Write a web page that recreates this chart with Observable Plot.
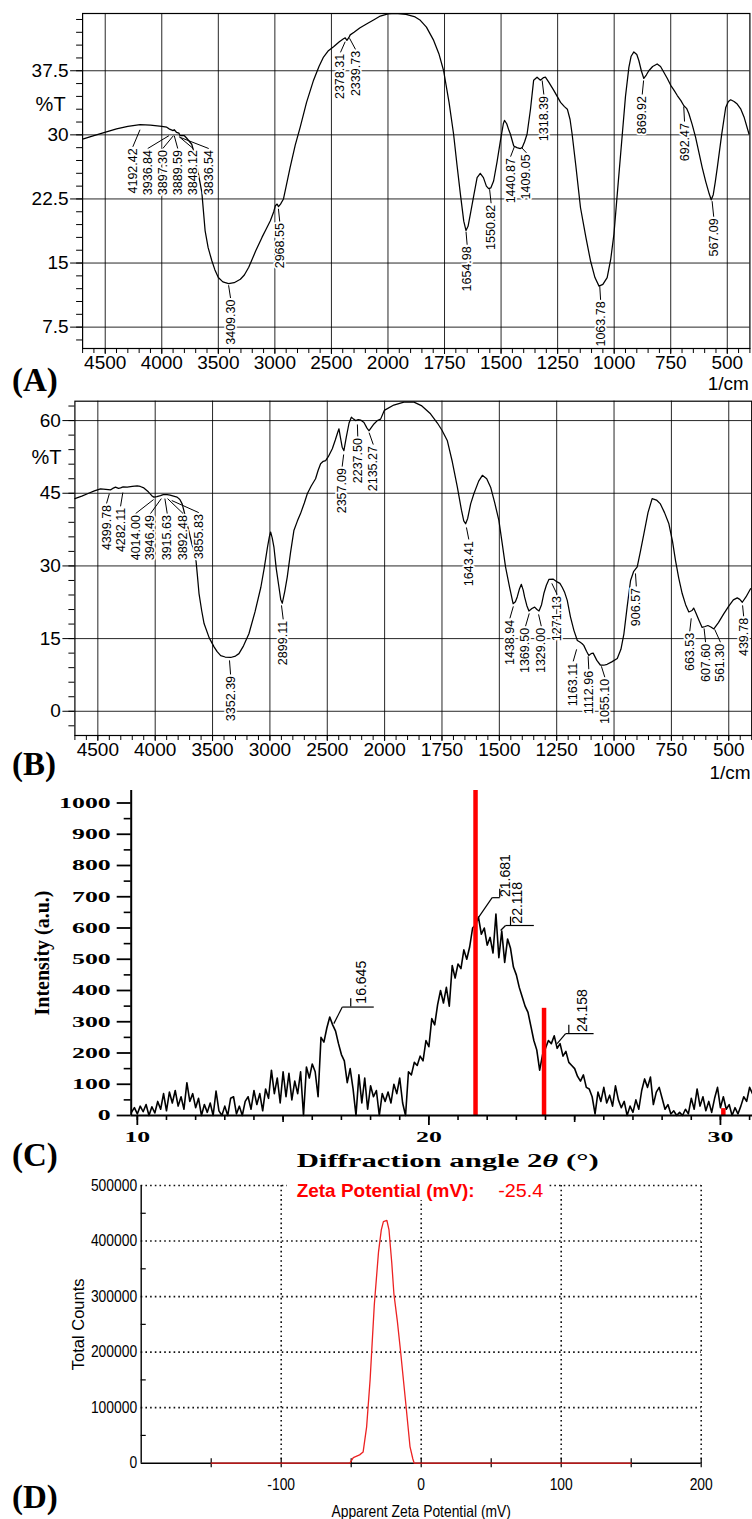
<!DOCTYPE html>
<html><head><meta charset="utf-8">
<script src="https://cdn.jsdelivr.net/npm/d3@7"></script>
<script src="https://cdn.jsdelivr.net/npm/@observablehq/plot@0.6"></script>
<style>
html,body{margin:0;padding:0;background:#fff;}
#root{position:relative;width:752px;height:1519px;overflow:hidden;background:#fff;}
#root svg{position:absolute;left:0;}
</style></head>
<body><div id="root"></div>
<script>
// ================= DATA =================
// (A) FTIR spectrum: wavenumber (1/cm) and transmittance (%T)
const irA_wavenumber = [4700,4600,4504,4400,4300,4192,4100,4000,3956,3936,3900,3890,3870,3848,3838,3800,3779,3735,3700,3670,3646,3617,3590,3558,3530,3500,3460,3409,3360,3305,3270,3231,3170,3114,3080,3040,3010,2996,2980,2968,2950,2924,2900,2865,2820,2776,2720,2658,2610,2570,2530,2481,2430,2393,2378,2363,2345,2334,2300,2250,2186,2120,2068,2000,1968,1920,1880,1857,1830,1798,1775,1754,1730,1710,1695,1680,1665,1655,1646,1636,1620,1606,1592,1578,1565,1555,1545,1533,1518,1503,1490,1485,1475,1465,1459,1444,1430,1415,1407,1396,1385,1370,1356,1341,1326,1312,1304,1290,1267,1237,1220,1207,1195,1186,1170,1149,1125,1105,1085,1067,1050,1031,1015,1001,985,964,950,935,925,913,900,891,880,869,858,847,830,810,795,780,765,750,735,721,705,692,680,670,655,640,625,611,595,580,571,562,553,544,525,507,495,485,470,456,440,426,404];
const irA_transmittance = [29.5,29.9,30.3,30.7,31.0,31.2,31.15,31.0,30.9,30.7,30.5,30.6,30.3,30.2,29.9,29.9,29.6,28.9,27.2,25.0,23.3,18.8,16.8,15.3,14.2,13.3,12.8,12.6,12.7,13.1,13.6,14.5,16.4,18.0,18.9,19.95,21.0,21.7,21.9,21.6,21.9,22.5,24.0,26.2,28.8,30.9,33.8,36.4,38.0,39.1,39.8,40.3,40.9,41.25,41.35,41.05,41.4,41.7,42.0,42.5,43.0,43.5,43.9,44.15,44.2,44.1,43.8,43.4,42.6,41.05,39.5,37.5,33.8,30.1,26.5,23.1,19.9,18.8,19.3,20.7,23.0,25.0,25.5,25.0,24.0,23.7,23.8,24.6,26.8,29.3,31.3,31.7,31.3,30.5,30.1,28.7,28.5,28.4,28.5,29.2,30.1,33.0,36.4,36.75,36.4,36.7,36.75,36.2,35.2,33.8,33.3,33.0,31.8,30.1,26.5,21.5,18.0,15.3,13.3,12.3,12.5,13.3,15.5,18.4,23.5,30.1,34.5,37.9,39.2,39.7,39.4,38.7,37.5,36.6,37.0,37.5,38.0,38.3,38.0,37.3,36.6,35.8,35.2,34.6,34.0,33.4,33.1,32.5,31.2,29.7,27.9,26.2,24.5,23.1,22.4,23.0,24.5,26.2,30.0,33.2,33.9,34.1,33.9,33.6,33.0,32.1,30.1];
// peak labels: [text, peak wavenumber, %T where leader starts, label wavenumber, %T at label top]
const irA_peakLabels = [
  ["4192.42",4192.42,30.6,4256,28.6],["3936.84",3936.84,29.9,4124,28.4],["3897.30",3897.30,29.9,3991,28.4],
  ["3889.59",3889.59,29.9,3859,28.4],["3848.12",3848.12,29.8,3722,28.4],["3836.54",3836.54,29.7,3585,28.4],
  ["3409.30",3409.30,12.4,3392,10.9],["2968.55",2968.55,21.35,2957,19.85],["2378.31",2378.31,40.9,2420,39.65],
  ["2339.73",2339.73,41.3,2287,40.0],["1654.98",1654.98,18.66,1650,17.14],["1550.82",1550.82,23.64,1544,22.0],
  ["1440.87",1440.87,28.63,1458,27.45],["1409.05",1409.05,28.5,1388,27.9],["1318.39",1318.39,36.36,1311,34.72],
  ["1063.78",1063.78,12.27,1060,10.69],["869.92",869.92,36.36,876,34.72],["692.47",692.47,33.31,689,31.56],
  ["567.09",567.09,22.24,560,20.42]
];

// (B) FTIR spectrum
const irB_wavenumber = [4700,4640,4590,4530,4477,4430,4390,4370,4346,4320,4302,4280,4244,4200,4157,4130,4099,4060,4030,4012,3985,3954,3930,3896,3870,3840,3809,3785,3765,3740,3710,3680,3647,3632,3618,3595,3574,3530,3487,3460,3429,3390,3342,3300,3270,3230,3183,3130,3079,3050,3021,3005,2994,2980,2965,2945,2921,2905,2892,2870,2849,2820,2791,2760,2733,2700,2674,2640,2602,2580,2558,2535,2514,2490,2456,2430,2410,2398,2385,2370,2355,2335,2310,2290,2270,2253,2230,2209,2180,2155,2137,2115,2093,2064,2035,2003,1960,1916,1872,1840,1800,1770,1750,1727,1705,1683,1665,1655,1647,1638,1625,1611,1590,1574,1555,1538,1520,1502,1488,1473,1455,1440,1430,1422,1412,1404,1396,1390,1380,1371,1358,1346,1336,1327,1316,1306,1295,1284,1266,1248,1236,1226,1215,1204,1190,1175,1160,1149,1140,1132,1120,1110,1100,1091,1075,1059,1045,1030,1010,986,970,957,943,928,915,899,885,870,852,834,815,798,780,761,745,732,718,703,688,674,660,653,645,630,616,603,591,578,565,545,522,500,480,463,452,441,425,405];
const irB_transmittance = [43.9,44.4,44.9,45.5,45.9,45.8,45.7,46.0,46.25,46.0,46.1,46.3,46.25,46.4,46.5,46.4,46.1,45.3,44.5,44.2,44.3,44.5,44.7,44.7,44.6,44.4,44.2,43.7,42.8,40.5,37.5,34.5,31.8,28.0,24.3,20.8,18.1,15.2,13.3,12.3,11.5,11.2,11.1,11.4,11.9,13.5,16.0,20.5,25.6,29.5,33.9,36.0,37.0,35.8,33.9,29.5,25.6,23.0,22.3,24.8,27.7,32.8,37.3,39.3,40.8,43.0,44.9,46.5,48.0,49.7,51.1,51.6,51.75,52.6,54.2,56.0,57.5,58.3,56.5,54.5,53.8,56.5,59.5,60.7,60.3,60.0,60.2,60.1,59.6,58.5,57.9,58.6,59.3,60.0,60.3,62.1,63.2,63.8,63.8,63.1,61.4,59.5,58.0,55.9,51.5,46.25,41.5,39.3,38.7,39.8,42.8,44.9,47.5,48.7,48.0,46.25,43.0,39.4,34.8,29.8,25.5,22.2,22.6,23.6,25.3,26.2,25.0,23.6,21.8,20.7,21.2,21.5,21.0,20.7,22.0,24.3,26.0,27.2,27.3,26.7,26.4,25.6,24.5,22.9,19.5,16.7,14.6,14.3,14.0,13.6,12.4,11.5,11.9,12.0,10.5,9.5,9.5,9.7,10.2,10.9,12.8,16.0,21.5,27.0,28.8,29.8,33.0,36.6,41.0,43.9,43.6,42.8,41.0,38.7,35.0,31.1,27.5,24.3,22.0,20.5,20.8,21.3,20.5,18.8,17.3,17.5,17.7,17.4,17.0,18.3,20.1,21.7,23.0,23.4,23.1,22.5,23.6,25.3];
const irB_peakLabels = [
  ["4399.78",4399.78,44.9,4424,42.9],["4282.11",4282.11,45.15,4302,42.3],["4014.00",4014.00,43.7,4171,40.8],
  ["3946.49",3946.49,43.9,4041,40.8],["3915.63",3915.63,43.9,3895,40.8],["3892.48",3892.48,43.9,3756,40.8],
  ["3855.83",3855.83,43.5,3620,41.0],["3352.39",3352.39,10.5,3343,7.6],["2899.11",2899.11,21.86,2884,18.97],
  ["2357.09",2357.09,53.0,2370,50.5],["2237.50",2237.50,59.2,2234,56.7],["2135.27",2135.27,57.5,2099,55.05],
  ["1643.41",1643.41,37.94,1633,35.46],["1438.94",1438.94,21.65,1454,19.18],["1369.50",1369.50,20.2,1386,17.53],
  ["1329.00",1329.00,20.0,1317,17.53],["1271.13",1271.13,26.4,1248,24.1],["1163.11",1163.11,12.78,1178,10.3],
  ["1112.96",1112.96,11.34,1110,8.66],["1055.10",1055.10,9.28,1040,7.0],["906.57",906.57,28.45,903,25.77],
  ["663.53",663.53,19.18,670,16.5],["607.60",607.60,17.1,601,14.23],["561.30",561.30,16.9,536,14.23],
  ["439.78",439.78,21.86,435,19.6]
];
const irMajorX = [4500,4000,3500,3000,2500,2000,1750,1500,1250,1000,750,500];
const irA_majorY = [7.5,15,22.5,30,37.5];
const irB_majorY = [0,15,30,45,60];

// (C) XRD: scan start/step (degrees 2θ) and intensities
const xrdStart = 9.8, xrdStep = 0.1;
const xrdIntensity = [
  10,25,
  5,30,12,35,0,28,8,45,20,70,
  15,75,40,80,30,60,20,105,45,70,
  25,55,0,35,10,40,0,78,15,0,
  30,0,55,60,5,30,0,45,60,20,
  80,35,70,15,85,55,145,70,120,40,
  140,60,135,50,110,70,140,0,155,120,
  165,140,60,250,235,280,315,290,270,230,
  195,175,105,150,85,0,130,40,120,20,
  95,60,80,0,70,45,75,40,100,70,
  120,40,0,140,130,170,160,190,175,240,
  220,310,290,355,400,360,410,350,480,440,
  485,470,530,500,540,600,610,635,580,600,
  545,570,520,645,505,590,490,565,535,475,
  450,410,380,350,330,285,240,210,145,195,
  215,240,230,255,215,230,190,205,170,160,
  150,125,110,130,90,85,60,5,75,45,
  90,40,65,30,95,50,25,45,0,30,
  10,50,20,80,117,90,123,35,75,90,
  55,20,35,5,15,0,10,0,20,5,
  55,20,85,30,60,15,45,10,55,90,
  25,60,20,35,0,25,5,30,60,45,
  90,70
];
const xrdRefAngle = [21.6, 23.95, 30.1];
const xrdRefHeight = [1040, 343, 22];
// peak labels: [text, peak 2θ, peak I, knee 2θ, knee I, line end 2θ, bar 2θ, text 2θ, text base I]
const xrdPeakLabels = [
  ["16.645",16.74,294,17.03,347,18.11,17.32,17.69,358],
  ["21.681",21.71,635,22.17,697,22.43,22.43,22.63,699],
  ["22.118",22.46,592,22.63,608,23.6,22.8,23.03,614],
  ["24.158",24.4,230,24.69,262,25.65,24.8,25.26,267]
];

// (D) Zeta potential distribution
const zetaPotential = [-150,-51,-48.5,-44,-41.5,-39,-36.5,-33.5,-30.5,-28.5,-27,-24.5,-23,-21,-19.5,-17,-14.8,-11,-8,-6,-5,150];
const zetaCounts = [0,0,10000,15000,20000,65000,150000,285000,380000,420000,435000,437000,420000,360000,305000,255000,203000,107000,30000,8000,0,0];
const zetaMean = "-25.4";

// ================= DRAWING =================
const root = document.getElementById("root");
function place(svg, top) { svg.style.top = top + "px"; svg.style.left = "0px"; root.appendChild(svg); return svg; }
const SANS = "'Liberation Sans', Arial, Helvetica, sans-serif";
const SERIF = "'Liberation Serif', 'Times New Roman', serif";

// The FTIR wavenumber axis has a change of scale at 2000 1/cm (500 per grid cell above, 250 below).
// ftirPos maps a wavenumber onto that broken axis, expressed in grid cells from 4700.
function ftirPos(w) { return w >= 2000 ? (4700 - w) / 500 : 5.4 + (2000 - w) / 250; }

function irPlot(o) {
  const rows = o.wn.map((w, i) => ({w, t: o.T[i]}));
  const labs = o.labels.map(([text, peak, s, lx, ly]) => ({text, peak, s, lx, ly}));
  const minorX = d3.range(2000, 4701, 100).concat(d3.range(400, 2000, 50)).map(ftirPos);
  const majorPos = irMajorX.map(ftirPos);
  const fmt = new Map(irMajorX.map(w => [ftirPos(w), String(w)]));
  return Plot.plot({
    width: 752, height: o.height,
    marginTop: o.mTop, marginBottom: o.mBottom, marginLeft: o.left, marginRight: 752 - o.right,
    x: {domain: [ftirPos(4700), ftirPos(400)], label: null},
    y: {domain: o.yDomain, label: null},
    style: {background: "none", fontFamily: SANS, color: "#000", overflow: "visible"},
    marks: [
      Plot.gridX(majorPos, {stroke: "#000", strokeOpacity: 0.85, strokeWidth: 1}),
      Plot.gridY(o.yMajor, {stroke: "#000", strokeOpacity: 0.85, strokeWidth: 1}),
      Plot.frame({stroke: "#000", strokeWidth: 1.2}),
      Plot.axisX(minorX, {tickSize: 5, tickFormat: () => "", label: null, stroke: "#000"}),
      Plot.axisX(majorPos, {tickSize: 6, tickPadding: 1, fontSize: 19, tickFormat: d => fmt.get(d), label: null, stroke: "#000"}),
      Plot.axisY(o.yMinor, {tickSize: 6, tickFormat: () => "", label: null, stroke: "#000"}),
      Plot.axisY(o.yMajor, {tickSize: 12, tickPadding: 2, fontSize: 19, tickFormat: d => String(d), label: null, stroke: "#000"}),
      Plot.line(rows, {x: d => ftirPos(d.w), y: "t", stroke: "#000", strokeWidth: 1.25}),
      Plot.link(labs, {x1: d => ftirPos(d.peak), y1: "s", x2: d => ftirPos(d.lx), y2: "ly", stroke: "#000", strokeWidth: 1}),
      Plot.text(labs, {x: d => ftirPos(d.lx), y: "ly", text: "text", rotate: -90, textAnchor: "end", lineAnchor: "middle",
        fontSize: 12.5, fill: "#000", stroke: "#fff", strokeWidth: 3.5, paintOrder: "stroke", dy: 1.5}),
      Plot.text(["%T"], {frameAnchor: "top-left", textAnchor: "middle", lineAnchor: "middle", dx: o.pctDx, dy: o.pctDy, fontSize: 20, fill: "#000"}),
      Plot.text(["1/cm"], {frameAnchor: "bottom-right", textAnchor: "end", lineAnchor: "middle", dx: -1, dy: o.unitDy, fontSize: 19, fill: "#000"})
    ]
  });
}

const svgA = place(irPlot({
  wn: irA_wavenumber, T: irA_transmittance, labels: irA_peakLabels,
  height: 390, mTop: 13, mBottom: 42, left: 82.1, right: 749.4,
  yDomain: [5, 44.2], yMajor: irA_majorY, yMinor: d3.range(6, 44, 1.5),
  pctDx: -32, pctDy: 91, unitDy: 35
}), 0);

const svgB = place(irPlot({
  wn: irB_wavenumber, T: irB_transmittance, labels: irB_peakLabels,
  height: 400, mTop: 12.7, mBottom: 53, left: 74.4, right: 751.2,
  yDomain: [-5, 64], yMajor: irB_majorY, yMinor: d3.range(-3, 64, 3),
  pctDx: -28.4, pctDy: 56.3, unitDy: 37
}), 388);

// ----- (C) XRD -----
const xrdRows = xrdIntensity.map((v, i) => ({a: xrdStart + i * xrdStep, v}));
const xrdBars = xrdRefAngle.map((a, i) => ({a, h: xrdRefHeight[i]}));
const xl = xrdPeakLabels.map(([text, px, py, kx, ky, ex, bx, tx, ty]) => ({text, px, py, kx, ky, ex, bx, tx, ty, btop: ky + 27}));
const svgC = place(Plot.plot({
  width: 752, height: 398, marginTop: 10, marginBottom: 63, marginLeft: 130.7, marginRight: 0,
  x: {domain: [9.79, 31.1], label: null},
  y: {domain: [0, 1040], label: null},
  style: {background: "none", fontFamily: SERIF, fontWeight: "bold", color: "#000", overflow: "visible"},
  marks: [
    Plot.axisY(d3.range(50, 1000, 100), {tickSize: 7, tickFormat: () => "", strokeWidth: 1.6, label: null}),
    Plot.axisY(d3.range(0, 1001, 100), {tickSize: 14, tickPadding: 6.5, fontSize: 15, strokeWidth: 1.8, tickFormat: d => String(d), label: null}),
    Plot.axisX(d3.range(10, 32, 1), {tickSize: 5, tickFormat: () => "", strokeWidth: 1.6, label: null}),
    Plot.axisX([15, 25], {tickSize: 7, tickFormat: () => "", strokeWidth: 1.6, label: null}),
    Plot.axisX([10, 20, 30], {tickSize: 10, tickPadding: 6, fontSize: 15, strokeWidth: 1.8, tickFormat: d => String(d), label: null}),
    Plot.line(xrdRows, {x: "a", y: "v", stroke: "#000", strokeWidth: 1.6}),
    Plot.ruleX(xrdBars, {x: "a", y1: 0, y2: "h", stroke: "#ff0000", strokeWidth: 4.5}),
    Plot.ruleY([0], {stroke: "#000", strokeWidth: 2}),
    Plot.ruleX([9.79], {stroke: "#000", strokeWidth: 2}),
    Plot.link(xl, {x1: "px", y1: "py", x2: "kx", y2: "ky", stroke: "#000", strokeWidth: 1.2}),
    Plot.link(xl, {x1: "kx", y1: "ky", x2: "ex", y2: "ky", stroke: "#000", strokeWidth: 1.2}),
    Plot.ruleX(xl, {x: "bx", y1: "ky", y2: "btop", stroke: "#000", strokeWidth: 1.2}),
    Plot.text(xl, {x: "tx", y: "ty", text: "text", rotate: -90, textAnchor: "start", lineAnchor: "middle",
      fontFamily: SANS, fontWeight: "normal", fontSize: 14, fill: "#000"}),
    Plot.text(["Intensity (a.u.)"], {frameAnchor: "left", rotate: -90, dx: -89, textAnchor: "middle", lineAnchor: "middle",
      fontFamily: SERIF, fontWeight: "bold", fontSize: 20, fill: "#000"})
  ]
}), 780);

// ----- (D) Zeta potential -----
const zetaRows = zetaPotential.map((p, i) => ({p, c: zetaCounts[i]}));
const dotted = {stroke: "#111", strokeWidth: 1.6, strokeDasharray: "1.6 3.1"};
const svgD = place(Plot.plot({
  width: 752, height: 341, marginTop: 7, marginBottom: 56.3, marginLeft: 140.7, marginRight: 51.3,
  x: {domain: [-200, 200], label: null},
  y: {domain: [0, 500000], label: null},
  style: {background: "none", fontFamily: SANS, color: "#000", overflow: "visible"},
  marks: [
    Plot.ruleY([100000, 200000, 300000, 400000, 500000], dotted),
    Plot.ruleX([-100, 0, 100, 200], dotted),
    Plot.ruleX([-200], {stroke: "#000", strokeWidth: 1.4}),
    Plot.ruleY([0], {stroke: "#000", strokeWidth: 1.4}),
    Plot.ruleY(d3.range(50000, 500000, 100000), {x1: -200, x2: -196.4, stroke: "#000", strokeWidth: 1.2}),
    Plot.ruleX(d3.range(-150, 201, 50), {y1: -8100, y2: 8100, stroke: "#000", strokeWidth: 1.2}),
    Plot.axisY([0, 100000, 200000, 300000, 400000, 500000], {tickSize: 0, tickPadding: 4, fontSize: 16.5, tickFormat: d => String(d), label: null}),
    Plot.axisX([-100, 0, 100, 200], {tickSize: 0, tickPadding: 15, fontSize: 16.5, tickFormat: d => String(d), label: null}),
    Plot.line(zetaRows, {x: "p", y: "c", stroke: "#ec2222", strokeWidth: 1.3}),
    Plot.text(["Total Counts"], {frameAnchor: "left", rotate: -90, dx: -62, textAnchor: "middle", lineAnchor: "middle", fontSize: 16.5, fill: "#000"}),
    Plot.text(["Apparent Zeta Potential (mV)"], {frameAnchor: "bottom", dy: 49, textAnchor: "middle", lineAnchor: "middle", fontSize: 16.5, fill: "#000"})
  ]
}), 1178);

// horizontal text width adjustment to mimic the reference's aspect
function stretchText(svg, k) {
  svg.querySelectorAll("text").forEach(t => {
    const tr = t.getAttribute("transform") || "";
    if (tr.includes("rotate")) return;
    const L = t.getComputedTextLength();
    if (L > 0) { t.setAttribute("textLength", (L * k).toFixed(1)); t.setAttribute("lengthAdjust", "spacingAndGlyphs"); }
  });
}
stretchText(svgC, 1.72);
stretchText(svgD, 0.84);

// ----- overlay: panel letters, titles -----
const ov = d3.select(root).append("svg").attr("width", 752).attr("height", 1519)
  .style("top", "0px").style("left", "0px").style("pointer-events", "none");
[["(A)", 391], ["(B)", 775], ["(C)", 1166], ["(D)", 1508]].forEach(([t, y]) => {
  ov.append("text").attr("x", 12).attr("y", y).attr("font-family", SERIF).attr("font-weight", "bold")
    .attr("font-size", 33).attr("fill", "#000").text(t);
});
const xt = ov.append("text").attr("x", 296.7).attr("y", 1167).attr("font-family", SERIF).attr("font-weight", "bold")
  .attr("font-size", 18).attr("fill", "#000").attr("textLength", 302).attr("lengthAdjust", "spacingAndGlyphs");
xt.append("tspan").text("Diffraction angle 2");
xt.append("tspan").attr("font-style", "italic").text("θ");
xt.append("tspan").text(" (°)");
ov.append("rect").attr("x", 287).attr("y", 1179).attr("width", 260).attr("height", 21).attr("fill", "#fff");
ov.append("text").attr("x", 296.7).attr("y", 1196.5).attr("font-family", SANS).attr("font-weight", "bold")
  .attr("font-size", 18.5).attr("fill", "#ff0000").attr("textLength", 178).attr("lengthAdjust", "spacingAndGlyphs")
  .text("Zeta Potential (mV):");
ov.append("text").attr("x", 498.3).attr("y", 1196.5).attr("font-family", SANS)
  .attr("font-size", 19).attr("fill", "#ff0000").attr("textLength", 45).attr("lengthAdjust", "spacingAndGlyphs")
  .text(zetaMean);
</script>
</body></html>
